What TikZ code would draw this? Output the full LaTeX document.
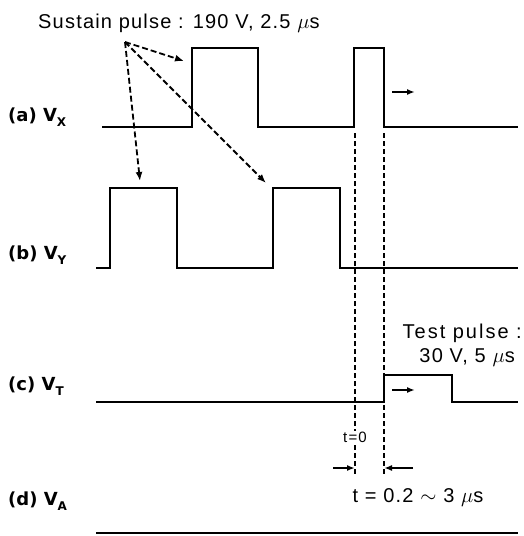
\documentclass[tikz,border=0pt]{standalone}
\usepackage{fontspec}
\setmainfont{Liberation Sans}
\newfontfamily\lblfont{DejaVu Sans}
\usetikzlibrary{arrows.meta}
\newcommand{\sbs}[1]{\raisebox{-5pt}{\fontsize{12}{12}\selectfont #1}}
\begin{document}
\begin{tikzpicture}[x=1pt,y=-1pt,
  wave/.style={line width=2pt},
  guide/.style={line width=2pt,dash pattern=on 5pt off 3pt},
  callout/.style={line width=1.8pt,dash pattern=on 6pt off 3pt,-{Latex[length=9pt,width=7pt]}},
  movearrow/.style={line width=1.8pt,-{Latex[length=8pt,width=6pt]}},
  lbl/.style={font=\lblfont\fontsize{18}{22}\selectfont\bfseries,anchor=base west,inner sep=0pt},
  txt/.style={font=\fontsize{20}{24}\selectfont\addfontfeature{LetterSpace=6},inner sep=0pt}]
\useasboundingbox (0,0) rectangle (523,536);
% labels
\node[lbl] (la) at (8,121) {(a) V\sbs{X}};
\node[lbl] (lb) at (8,259) {(b) V\sbs{Y}};
\node[lbl] (lc) at (8,390) {(c) V\sbs{T}};
\node[lbl] (ld) at (8,505) {(d) V\sbs{A}};
% title
\node[txt,anchor=base west] (title) at (38,28) {Sustain pulse : 190 V, 2.5 $\mu$s};
% waveforms
\draw[wave] (102,127) -- (192,127) -- (192,48) -- (258,48) -- (258,127) -- (354,127) -- (354,48) -- (384,48) -- (384,127) -- (518,127);
\draw[wave] (96,268) -- (110,268) -- (110,188) -- (177,188) -- (177,268) -- (273,268) -- (273,188) -- (340,188) -- (340,268) -- (518,268);
\draw[wave] (96,402) -- (384,402) -- (384,375) -- (452,375) -- (452,402) -- (518,402);
\draw[wave] (96,533) -- (518,533);
% callout arrows
\coordinate (src) at (125,42);
\coordinate (ta) at (184,61);
\coordinate (tb) at (140,181);
\coordinate (tc) at (266,183);
\draw[callout] (src) -- (ta);
\draw[callout] (src) -- (tb);
\draw[callout] (src) -- (tc);
% guides
\coordinate (g1a) at (355,133); \coordinate (g1b) at (355,474);
\coordinate (g2a) at (384,133); \coordinate (g2b) at (384,476);
\draw[guide] (g1a) -- (g1b);
\draw[guide] (g2a) -- (g2b);
% shift arrows
\coordinate (sa1) at (392,92); \coordinate (sa2) at (415,92);
\draw[movearrow] (sa1) -- (sa2);
\coordinate (sb1) at (392,390); \coordinate (sb2) at (415,390);
\draw[movearrow] (sb1) -- (sb2);
\coordinate (w1) at (333,468); \coordinate (w2) at (413,468);
\draw[movearrow] (w1) -- (g1b |- w1);
\draw[movearrow] (w2) -- (g2b |- w2);
% texts
\node[txt,anchor=base east,font=\fontsize{20}{24}\selectfont\addfontfeature{LetterSpace=10}] (tp1) at (522,338) {Test pulse :};
\node[txt,anchor=base east] (tp2) at (515,362) {30 V, 5 $\mu$s};
\node[font=\fontsize{15}{17}\selectfont\addfontfeature{LetterSpace=8},fill=white,inner sep=1pt] (t0) at (355,437) {t=0};
\node[txt,anchor=base] (tt) at (418,502) {t = 0.2 $\sim$ 3 $\mu$s};
\end{tikzpicture}
\end{document}
